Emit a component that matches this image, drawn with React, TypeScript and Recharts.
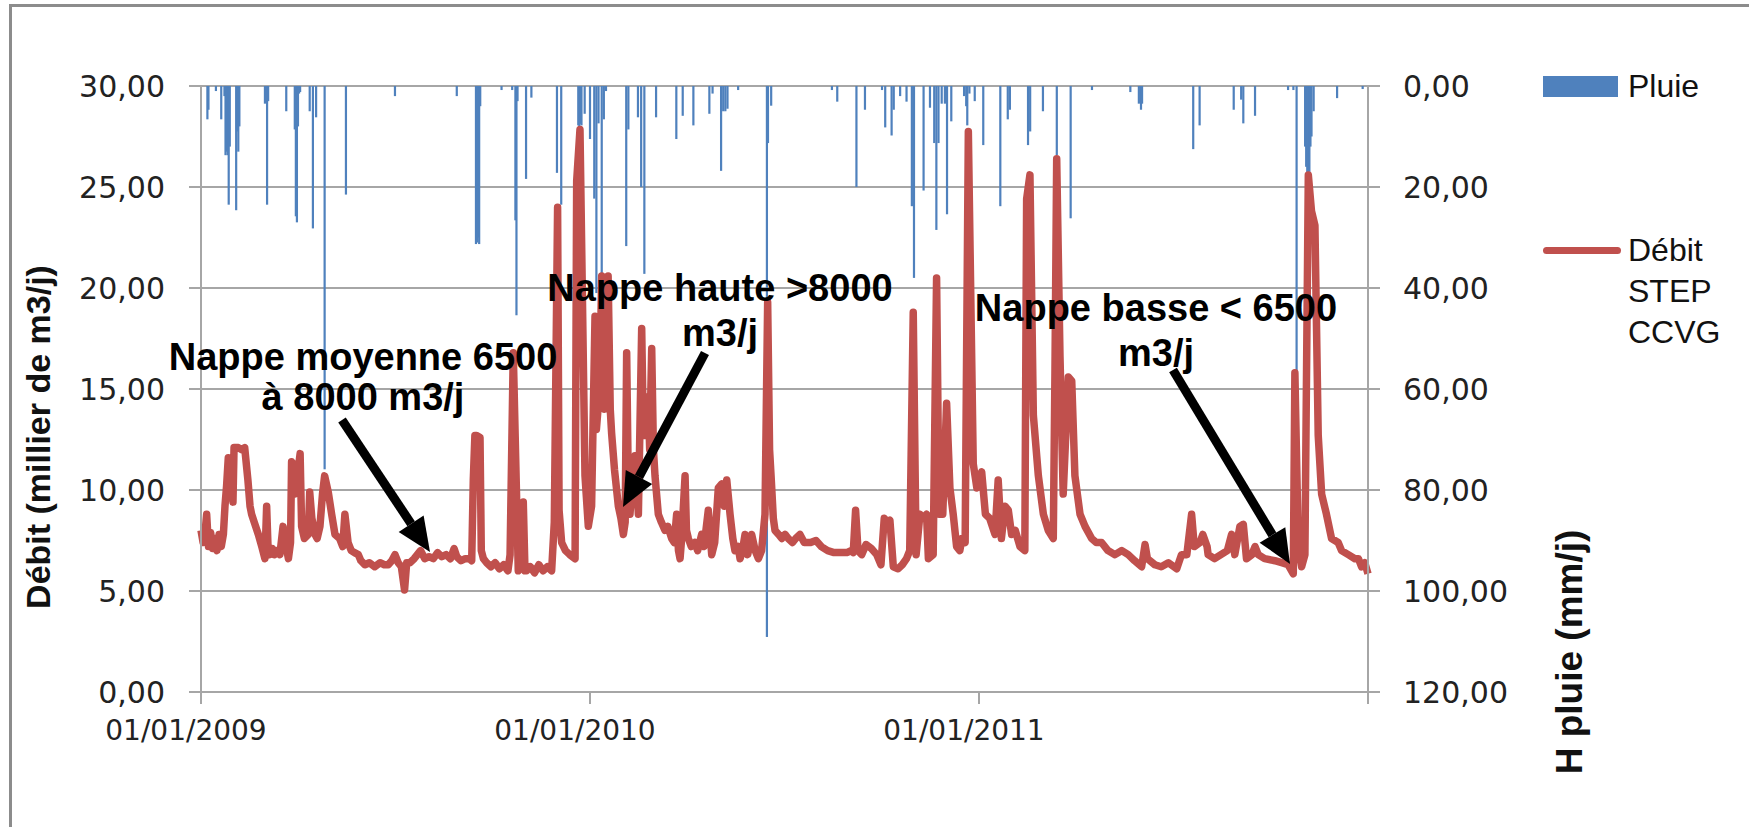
import React from 'react';
import { ComposedChart, Bar, Line, XAxis, YAxis, CartesianGrid } from 'recharts';

// jours depuis le 01/01/2009
const flowDays = [
  0, 2, 4, 5.3, 7, 9, 11, 13, 15, 17, 19, 21, 22.5, 24, 25.6, 28, 30, 31, 35, 38, 41, 44, 46, 47.5, 50, 53.8,
  57, 60, 61.6, 63, 64.7, 67, 69, 71, 74, 77, 80, 82, 84, 85, 86.5, 88, 90, 93, 94.4, 97, 100.7, 102, 104, 107,
  109, 111.6, 114, 116, 119.4, 122.6, 125.7, 130, 133, 135, 138, 141, 144, 147.6, 150, 153.8, 158, 163, 168, 172,
  175.7, 179, 182, 185, 188, 191, 193, 196, 200, 203, 206, 210, 214, 218, 222, 226, 230, 234, 237.5, 240, 244,
  248, 252, 254, 255.5, 257, 258.6, 261.8, 263, 265, 268, 272, 276, 280, 284, 288, 290, 293, 297.7, 300, 302.4,
  304, 305.5, 309, 313, 317, 321, 325, 329, 331.5, 334.6, 336, 338.4, 342, 346, 351, 352.5, 355.6, 360.3, 363.4,
  366.5, 369.7, 371, 374, 376, 378.5, 380, 382, 384, 385.3, 388, 391.6, 394, 396.3, 398, 399.4, 401, 402.5, 405,
  407.2, 410.4, 413.5, 415, 416.6, 418, 419.7, 421, 422.9, 424.5, 426, 429.1, 432, 435.4, 438, 441.6, 444, 446.3,
  448, 449.5, 451, 454.2, 455.5, 457.3, 460, 463.5, 466, 469.8, 472, 476, 479.2, 482, 485.4, 488.6, 491, 493.3,
  496.4, 499, 501, 504, 505.8, 508, 510.5, 513, 516.7, 520, 523, 526, 529.2, 531.7, 533.5, 534.9, 537, 538.6,
  542, 545, 548, 551, 555, 558, 562, 566, 572, 577, 582, 588, 594, 600, 606, 610, 612, 614.2, 616.5, 620, 624,
  629, 634, 638, 641.1, 644, 646.4, 649.6, 654, 658, 662, 665, 668.3, 671, 674.6, 678, 680.8, 682.5, 687, 690.2,
  692.5, 696, 699.6, 702.7, 705.8, 709, 712, 714, 717, 720, 724.6, 728, 732.5, 736, 740, 745, 748, 751, 754.4,
  757.5, 760.6, 764, 768.5, 773, 774.7, 777.8, 781, 785.7, 790.4, 795, 799.7, 801.3, 802.9, 806, 809, 813.8, 817,
  820, 824.8, 829.5, 835.7, 840, 845, 851, 857.6, 864, 870, 876, 882.6, 885.8, 888, 895, 901, 907.7, 915.5, 920,
  925, 929.5, 932, 937.4, 940, 944, 945, 951, 957, 963, 967, 970, 974.8, 978, 981, 986, 989, 992, 998, 1007.6,
  1014, 1020, 1024.9, 1026.4, 1029.6, 1032.7, 1035.8, 1039, 1042, 1045.2, 1048.3, 1051.5, 1056, 1060.8, 1067,
  1070.2, 1076.5, 1082.7, 1086, 1089, 1092, 1095,
];
const flowValues = [
  8.0, 7.4, 8.0, 8.8, 7.2, 7.9, 7.1, 7.6, 7.0, 7.8, 7.2, 7.8, 9.2, 10.2, 11.6, 11.0, 9.4, 12.1, 12.1, 12.0, 12.1,
  10.5, 9.2, 8.8, 8.4, 7.8, 7.2, 6.6, 9.2, 7.0, 6.8, 7.1, 6.8, 7.0, 6.8, 8.2, 7.2, 6.6, 7.4, 11.4, 11.3, 9.8,
  10.5, 11.8, 8.2, 7.6, 7.8, 9.9, 8.6, 7.8, 7.6, 8.2, 9.8, 10.7, 9.9, 8.8, 7.8, 7.6, 7.2, 8.8, 7.4, 7.0, 6.9,
  6.8, 6.5, 6.3, 6.4, 6.2, 6.4, 6.3, 6.3, 6.5, 6.8, 6.4, 6.2, 5.05, 6.4, 6.4, 6.6, 6.8, 7.0, 6.6, 6.7, 6.6, 6.9,
  6.7, 6.8, 6.6, 7.1, 6.7, 6.5, 6.6, 6.6, 6.5, 10.5, 12.7, 12.7, 12.6, 7.0, 6.6, 6.4, 6.2, 6.4, 6.1, 6.3, 6.0,
  6.8, 16.8, 6.0, 6.5, 9.4, 6.0, 6.0, 6.2, 5.9, 6.3, 6.0, 6.2, 6.0, 8.4, 24.0, 9.0, 7.4, 7.0, 6.8, 6.6, 25.3,
  27.85, 10.7, 8.2, 9.2, 18.6, 13.0, 15.0, 20.6, 14.0, 16.0, 20.6, 14.0, 12.8, 11.0, 9.2, 8.6, 7.8, 8.4, 16.8,
  10.0, 8.8, 10.5, 11.7, 8.8, 18.0, 13.0, 12.7, 13.5, 14.6, 12.0, 17.0, 12.0, 10.7, 8.8, 8.4, 8.0, 8.2, 7.6, 7.4,
  8.8, 7.0, 6.6, 7.6, 10.7, 8.0, 7.6, 7.2, 7.4, 7.0, 7.8, 7.2, 9.0, 6.8, 7.4, 10.1, 10.3, 9.2, 10.5, 8.8, 7.6,
  7.0, 7.2, 6.6, 7.0, 7.8, 6.8, 7.8, 7.0, 6.6, 7.0, 8.8, 19.3, 12.0, 10.7, 8.6, 8.0, 7.8, 7.6, 7.8, 7.6, 7.4,
  7.6, 7.8, 7.4, 7.4, 7.5, 7.2, 7.0, 6.9, 6.9, 6.9, 7.0, 6.9, 9.0, 7.0, 6.8, 7.3, 7.1, 6.8, 6.3, 8.6, 8.4, 8.5,
  6.2, 6.1, 6.3, 6.6, 7.0, 18.8, 6.8, 8.8, 8.6, 8.8, 6.6, 6.8, 20.5, 8.8, 8.8, 14.3, 10.1, 8.8, 7.2, 7.0, 7.6,
  7.4, 27.75, 11.3, 10.1, 10.9, 8.8, 8.6, 7.8, 10.5, 7.6, 9.2, 9.0, 7.8, 8.0, 7.2, 7.0, 24.4, 25.6, 13.7, 10.7,
  8.8, 8.0, 7.6, 16.0, 26.4, 16.6, 9.8, 15.6, 15.4, 10.7, 8.8, 8.2, 7.6, 7.4, 7.4, 7.0, 6.8, 7.0, 6.8, 6.5, 6.2,
  7.3, 6.6, 6.3, 6.2, 6.4, 6.1, 6.8, 6.8, 8.8, 7.2, 7.4, 7.8, 7.2, 6.8, 6.6, 6.8, 7.0, 7.8, 6.8, 8.2, 8.3, 6.6,
  6.8, 7.2, 6.8, 6.6, 6.5, 6.4, 6.3, 5.85, 15.8, 7.2, 6.2, 6.8, 25.6, 23.8, 23.1, 12.7, 9.8, 8.8, 7.6, 7.4, 7.0,
  6.8, 6.6, 6.6, 6.2, 6.4, 5.85,
];

const rainDays = [
  6, 7, 14, 19, 22, 23, 24, 25, 26, 27, 33, 34, 35, 36, 60, 62, 63, 80, 88, 89, 90, 91, 92, 93, 102, 105, 108,
  116, 136, 182, 240, 258, 259, 260, 261, 262, 282, 292, 295, 296, 297, 305, 310, 334, 338, 354, 355, 356, 357,
  360, 365, 369, 371, 373, 376, 378, 380, 399, 401, 410, 413, 416, 427, 446, 452, 462, 477, 480, 488, 490, 492,
  494, 504, 531, 532, 535, 592, 597, 615, 623, 639, 642, 648, 650, 656, 662, 667, 669, 678, 684, 688, 690, 692,
  695, 698, 700, 704, 716, 718, 719, 721, 726, 734, 750, 757, 759, 776, 778, 790, 803, 816, 836, 872, 880, 882,
  883, 931, 937, 969, 976, 978, 989, 1020, 1025, 1028, 1036, 1037, 1038, 1039, 1040, 1041, 1042, 1044, 1066, 1090,
];
const rainValues = [
  6.6, 4.7, 1.0, 6.6, 2.0, 13.7, 13.0, 13.7, 23.5, 12.0, 24.6, 9.0, 13.0, 8.0, 3.5, 23.5, 3.0, 5.0, 8.6, 25.8,
  27.0, 8.0, 1.5, 1.2, 5.0, 28.2, 6.2, 75.9, 21.5, 2.0, 2.0, 31.3, 31.0, 30.0, 31.3, 4.0, 0.8, 0.8, 26.6, 45.4,
  3.0, 18.4, 2.3, 17.2, 23.5, 7.8, 8.0, 7.5, 7.8, 5.5, 10.5, 22.3, 41.0, 7.4, 37.2, 6.6, 1.0, 31.7, 8.6, 6.2,
  20.0, 37.2, 6.2, 10.5, 5.9, 7.8, 5.5, 1.5, 16.8, 5.0, 5.0, 4.5, 0.8, 109.1, 11.3, 3.9, 0.8, 3.1, 20.0, 4.7,
  0.8, 8.2, 9.8, 4.7, 2.0, 3.1, 23.8, 38.0, 20.7, 4.3, 11.3, 28.5, 11.3, 3.5, 3.5, 25.4, 7.0, 2.0, 4.0, 7.8, 1.5,
  3.0, 11.7, 23.8, 6.6, 4.7, 11.7, 9.0, 5.0, 13.7, 26.2, 0.8, 1.2, 3.5, 4.7, 3.5, 12.5, 7.8, 4.7, 2.7, 7.4, 5.9,
  0.8, 0.8, 56.7, 12.0, 16.0, 18.0, 17.8, 17.0, 12.0, 10.0, 5.0, 2.4, 0.6,
];

const xTicks = [0, 365, 730, 1095];
const xTickLabels = ['01/01/2009', '01/01/2010', '01/01/2011', ''];
const flowTicks = [0, 5, 10, 15, 20, 25, 30];
const rainTicks = [0, 20, 40, 60, 80, 100, 120];

const annotations = [
  { lines: ['Nappe moyenne 6500', 'à 8000 m3/j'], x: 363, y: [370, 410] },
  { lines: ['Nappe haute >8000', 'm3/j'], x: 720, y: [301, 346] },
  { lines: ['Nappe basse < 6500', 'm3/j'], x: 1156, y: [321, 366] },
];
const arrows = [
  { from: [342, 420], to: [430, 552] },
  { from: [705, 353], to: [623, 507] },
  { from: [1173, 370], to: [1290, 564] },
];

const BLUE = '#4f81bd';
const RED = '#c0504d';
const GRID = '#a6a6a6';
const TICK_FONT = "'DejaVu Sans', Verdana, sans-serif";
const TEXT_FONT = "'Liberation Sans', Arial, sans-serif";

function buildData() {
  const map = new Map<number, { day: number; flow?: number; rain?: number }>();
  flowDays.forEach((d, i) => map.set(d, { ...(map.get(d) || { day: d }), flow: flowValues[i] }));
  rainDays.forEach((d, i) => map.set(d, { ...(map.get(d) || { day: d }), rain: rainValues[i] }));
  return Array.from(map.values()).sort((a, b) => a.day - b.day);
}

const fmt = (v: number) => v.toFixed(2).replace('.', ',');

// barre fine de pluie, centrée sur le jour
const RainBar = (p: any) => {
  if (p.height == null || p.width == null || !p.height) return <g />;
  const top = Math.min(p.y, p.y + p.height);
  const h = Math.abs(p.height);
  return <rect x={p.x + p.width / 2 - 1.1} y={top} width={2.2} height={h} fill={BLUE} />;
};

function Arrow({ from, to }: { from: number[]; to: number[] }) {
  const [x1, y1] = from;
  const [x2, y2] = to;
  const len = Math.hypot(x2 - x1, y2 - y1);
  const ux = (x2 - x1) / len;
  const uy = (y2 - y1) / len;
  const head = 34;
  const half = 15;
  const bx = x2 - ux * head;
  const by = y2 - uy * head;
  const pts = `${x2},${y2} ${bx - uy * half},${by + ux * half} ${bx + uy * half},${by - ux * half}`;
  return (
    <g>
      <line x1={x1} y1={y1} x2={bx} y2={by} stroke="#000" strokeWidth={9} />
      <polygon points={pts} fill="#000" />
    </g>
  );
}

export default function App() {
  const data = buildData();
  const XTick = (props: any) => {
    const { x, y, payload } = props;
    const idx = xTicks.indexOf(payload.value);
    return (
      <text x={x - 15} y={y} dy={36} textAnchor="middle" fontFamily={TICK_FONT} fontSize={28} fill="#222">
        {xTickLabels[idx] ?? ''}
      </text>
    );
  };
  const yTick = { fill: '#222', fontSize: 30, fontFamily: TICK_FONT } as const;

  return (
    <div style={{ position: 'absolute', left: 0, top: 0, width: 1749, height: 827, background: '#fff', overflow: 'hidden' }}>
      <div style={{ position: 'absolute', left: 9, top: 4, width: 1800, height: 900, borderLeft: '3px solid #8c8c8c', borderTop: '3px solid #8c8c8c' }} />
      <ComposedChart width={1749} height={827} data={data} margin={{ top: 86, bottom: 75, left: 61, right: 181 }}>
        <CartesianGrid yAxisId="flow" vertical={false} stroke={GRID} strokeWidth={2} />
        <XAxis
          dataKey="day"
          type="number"
          domain={[0, 1095]}
          ticks={xTicks}
          tick={XTick}
          height={60}
          tickSize={12}
          tickMargin={0}
          axisLine={{ stroke: GRID, strokeWidth: 2 }}
          tickLine={{ stroke: GRID, strokeWidth: 2 }}
          interval={0}
        />
        <YAxis
          yAxisId="flow"
          domain={[0, 30]}
          ticks={flowTicks}
          tickFormatter={fmt}
          width={140}
          tick={yTick}
          tickSize={12}
          tickMargin={24}
          axisLine={{ stroke: GRID, strokeWidth: 2 }}
          tickLine={{ stroke: GRID, strokeWidth: 2 }}
          interval={0}
        />
        <YAxis
          yAxisId="rain"
          orientation="right"
          reversed
          domain={[0, 120]}
          ticks={rainTicks}
          tickFormatter={fmt}
          width={200}
          tick={{ ...yTick, textAnchor: 'start' }}
          tickSize={12}
          tickMargin={23}
          axisLine={{ stroke: GRID, strokeWidth: 2 }}
          tickLine={{ stroke: GRID, strokeWidth: 2 }}
          interval={0}
        />
        <Bar yAxisId="rain" dataKey="rain" name="Pluie" fill={BLUE} shape={RainBar} isAnimationActive={false} />
        <Line
          yAxisId="flow"
          dataKey="flow"
          name="Débit STEP CCVG"
          type="linear"
          stroke={RED}
          strokeWidth={7.5}
          strokeLinejoin="round"
          dot={false}
          connectNulls
          isAnimationActive={false}
        />
      </ComposedChart>

      <svg width={1749} height={827} style={{ position: 'absolute', left: 0, top: 0, pointerEvents: 'none' }}>
        <text
          transform="translate(50,437) rotate(-90)"
          textAnchor="middle"
          fontFamily={TEXT_FONT}
          fontWeight="bold"
          fontSize={34}
          fill="#111"
        >
          Débit (millier de m3/j)
        </text>
        <text
          transform="translate(1582,652) rotate(-90)"
          textAnchor="middle"
          fontFamily={TEXT_FONT}
          fontWeight="bold"
          fontSize={37}
          fill="#111"
        >
          H pluie (mm/j)
        </text>
        {annotations.map((a, i) =>
          a.lines.map((l, j) => (
            <text key={`${i}-${j}`} x={a.x} y={a.y[j]} textAnchor="middle" fontFamily={TEXT_FONT} fontWeight="bold" fontSize={38} fill="#000">
              {l}
            </text>
          ))
        )}
        {arrows.map((a, i) => (
          <Arrow key={i} from={a.from} to={a.to} />
        ))}
      </svg>

      <div style={{ position: 'absolute', left: 1543, top: 66, fontFamily: TEXT_FONT, fontSize: 32, color: '#111', lineHeight: '41px' }}>
        <div style={{ display: 'flex', alignItems: 'center' }}>
          <span style={{ display: 'inline-block', width: 75, height: 21, background: BLUE, marginRight: 10 }} />
          <span>Pluie</span>
        </div>
        <div style={{ display: 'flex', alignItems: 'flex-start', marginTop: 123 }}>
          <span style={{ display: 'inline-block', width: 78, height: 7, borderRadius: 4, background: RED, marginTop: 17, marginRight: 7 }} />
          <span>
            Débit
            <br />
            STEP
            <br />
            CCVG
          </span>
        </div>
      </div>
    </div>
  );
}
